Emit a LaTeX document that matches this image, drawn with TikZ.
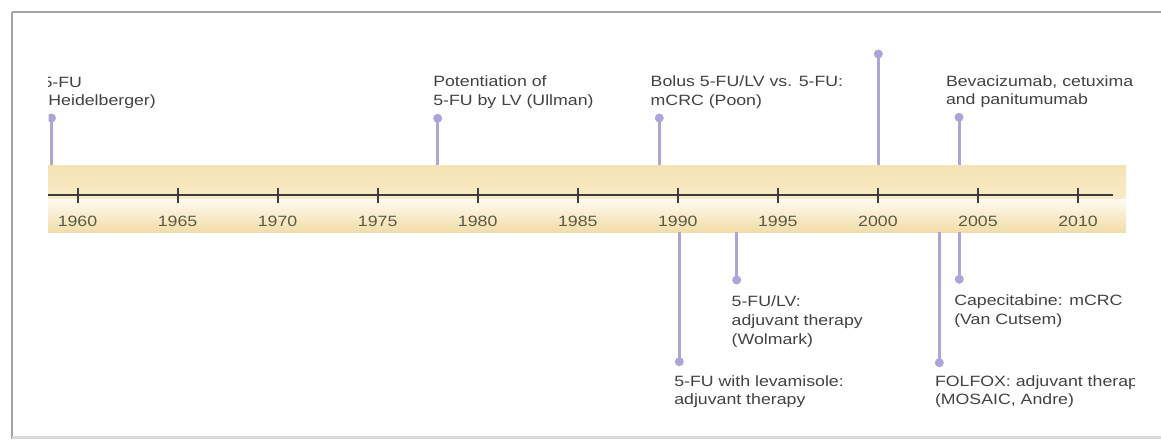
\documentclass[tikz,border=0pt]{standalone}
\usepackage{fontspec}
\newfontfamily\lab[FakeStretch=1.19]{Liberation Sans}
\definecolor{bandtan}{HTML}{F5E3B3}
\definecolor{bandlight}{HTML}{F8EBC8}
\definecolor{bandwhite}{HTML}{FFFBF0}
\definecolor{bandbot}{HTML}{F2DDA8}
\definecolor{lav}{HTML}{ABA5DA}
\definecolor{txt}{HTML}{424242}
\definecolor{yrc}{HTML}{5C5946}
\definecolor{axc}{HTML}{3C3C3C}
\definecolor{frame}{HTML}{A3A3A3}
\definecolor{framelight}{HTML}{DADADA}
\begin{document}
\begin{tikzpicture}[x=1pt,y=-1pt,
  every node/.style={font=\lab\fontsize{14.9pt}{18.8pt}\selectfont},
  stem/.style={draw=lav, line width=3pt},
  dot/.style={circle, fill=lav, inner sep=0pt, outer sep=0pt, minimum size=9pt},
  lbl/.style={anchor=north west, inner sep=0pt, outer sep=0pt, align=left, text=txt},
  yr/.style={anchor=base, inner sep=0pt, text=yrc},
  tickline/.style={draw=axc, line width=2pt},
  axisline/.style={draw=axc, line width=2pt}]
\useasboundingbox (0,0) rectangle (1161,439);
\fill[white] (0,0) rectangle (1161,439);
% frame
\draw[frame, line width=2pt] (11.5,12) -- (1161,12);
\draw[frame, line width=2pt] (11.5,12) -- (11.5,439);
\draw[framelight, line width=3pt] (12,437.5) -- (1161,437.5);
% band
\shade[top color=bandtan, bottom color=bandlight] (48,165) rectangle (1126,199);
\shade[top color=bandwhite, bottom color=bandbot] (48,199) rectangle (1126,232);
% axis
\coordinate (axL) at (48,195);
\coordinate (axR) at (1113,195);
\draw[axisline] (axL) -- (axR);
\foreach \yy [count=\i from 0] in {1960,1965,...,2010}{
  \pgfmathsetmacro\xx{77.5+100.05*\i}
  \coordinate (ta\yy) at (\xx,187.5);
  \coordinate (tb\yy) at (\xx,203);
  \draw[tickline] (ta\yy) -- (tb\yy);
  \node[yr] (y\yy) at (\xx,226.5) {\yy};
}
\begin{scope}
\clip (48.5,0) rectangle (1134.5,439);
% stems above the band
\node[dot] (dH) at (51.5,118) {};   \coordinate (bH) at (51.5,165);
\node[dot] (dU) at (437.7,118.3) {}; \coordinate (bU) at (437.7,165);
\node[dot] (dP) at (659.3,118) {};  \coordinate (bP) at (659.3,165);
\node[dot] (dM) at (878.3,54) {};   \coordinate (bM) at (878.3,165);
\node[dot] (dB) at (959,117.3) {};  \coordinate (bB) at (959,165);
% stems below the band
\node[dot] (dL) at (679.3,361.7) {}; \coordinate (bL) at (679.3,232);
\node[dot] (dW) at (736.7,280) {};   \coordinate (bW) at (736.7,232);
\node[dot] (dF) at (939.3,362.7) {}; \coordinate (bF) at (939.3,232);
\node[dot] (dC) at (959.3,279.3) {}; \coordinate (bC) at (959.3,232);
\foreach \k in {H,U,P,M,B,L,W,F,C}{\draw[stem] (d\k.center) -- (b\k);}
% labels
\node[lbl] (tH) at (42.5,75) {\rule{0pt}{12pt}5-FU\\(Heidelberger)};
\node[lbl] (tU) at (433.3,74.5) {\rule{0pt}{12pt}Potentiation of\\5-FU by LV (Ullman)};
\node[lbl] (tP) at (650.7,74.5) {\rule{0pt}{12pt}Bolus 5-FU/LV vs. 5-FU:\\mCRC (Poon)};
\node[lbl] (tB) at (946,74) {\rule{0pt}{12pt}Bevacizumab, cetuxima\\and panitumumab};
\node[lbl] (tW) at (731.7,294.5) {\rule{0pt}{12pt}5-FU/LV:\\adjuvant therapy\\(Wolmark)};
\node[lbl] (tL) at (674.3,374) {\rule{0pt}{12pt}5-FU with levamisole:\\adjuvant therapy};
\node[lbl] (tC) at (954.3,293.5) {\rule{0pt}{12pt}Capecitabine: mCRC\\(Van Cutsem)};
\node[lbl] (tF) at (935,374) {\rule{0pt}{12pt}FOLFOX: adjuvant therap\\(MOSAIC, Andre)};
\end{scope}
\end{tikzpicture}
\end{document}
